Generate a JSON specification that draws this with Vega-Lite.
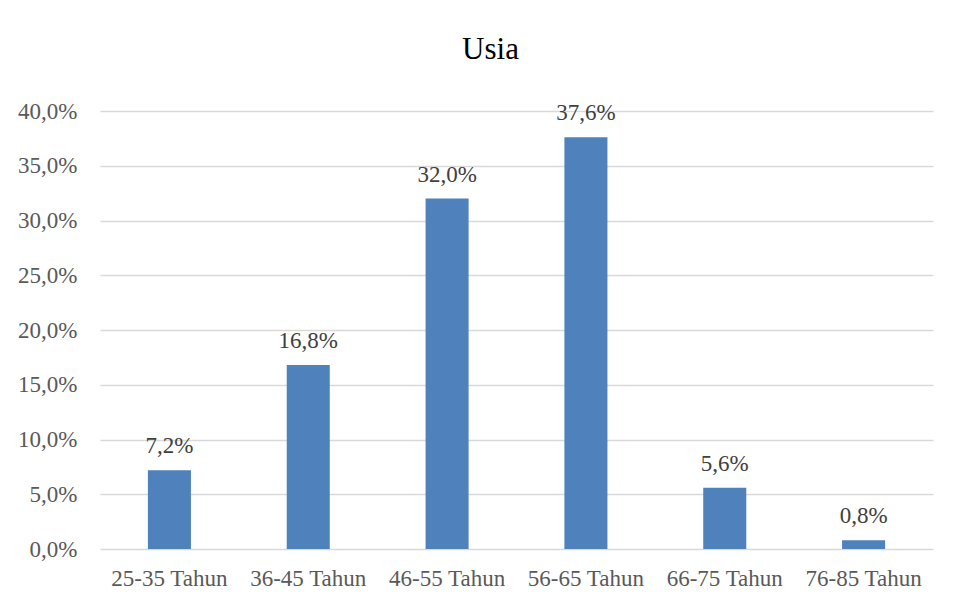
{
  "$schema": "https://vega.github.io/schema/vega-lite/v6.json",
  "width": 833,
  "height": 438,
  "autosize": {"type": "none"},
  "padding": {"left": 100, "top": 111, "right": 26, "bottom": 46},
  "background": "white",
  "title": {
    "text": "Usia",
    "font": "Liberation Serif",
    "fontSize": 31,
    "fontWeight": "normal",
    "color": "#000000",
    "baseline": "alphabetic",
    "offset": 10,
    "dx": -26
  },
  "data": {
    "values": [
      {"usia": "25-35 Tahun", "persen": 0.072},
      {"usia": "36-45 Tahun", "persen": 0.168},
      {"usia": "46-55 Tahun", "persen": 0.320},
      {"usia": "56-65 Tahun", "persen": 0.376},
      {"usia": "66-75 Tahun", "persen": 0.056},
      {"usia": "76-85 Tahun", "persen": 0.008}
    ]
  },
  "encoding": {
    "x": {
      "field": "usia",
      "type": "nominal",
      "sort": null,
      "title": null,
      "scale": {"paddingInner": 0.69, "paddingOuter": 0.345},
      "axis": {
        "labelAngle": 0,
        "ticks": false,
        "domain": false,
        "labelFont": "Liberation Serif",
        "labelFontSize": 23,
        "labelColor": "#595959",
        "labelPadding": 18
      }
    },
    "y": {
      "field": "persen",
      "type": "quantitative",
      "title": null,
      "scale": {"domain": [0, 0.4]},
      "axis": {
        "values": [0, 0.05, 0.1, 0.15, 0.2, 0.25, 0.3, 0.35, 0.4],
        "labelExpr": "replace(format(datum.value, '.1%'), '.', ',')",
        "ticks": false,
        "domain": false,
        "grid": true,
        "gridColor": "#D9D9D9",
        "gridWidth": 1.3,
        "labelFont": "Liberation Serif",
        "labelFontSize": 23,
        "labelColor": "#595959",
        "labelPadding": 23
      }
    }
  },
  "layer": [
    {
      "mark": {"type": "bar", "color": "#4F81BD"}
    },
    {
      "mark": {
        "type": "text",
        "baseline": "alphabetic",
        "dy": -17,
        "font": "Liberation Serif",
        "fontSize": 23,
        "color": "#404040"
      },
      "encoding": {
        "text": {"field": "label"}
      },
      "transform": [
        {"calculate": "replace(format(datum.persen, '.1%'), '.', ',')", "as": "label"}
      ]
    }
  ],
  "config": {
    "view": {"stroke": null}
  }
}
